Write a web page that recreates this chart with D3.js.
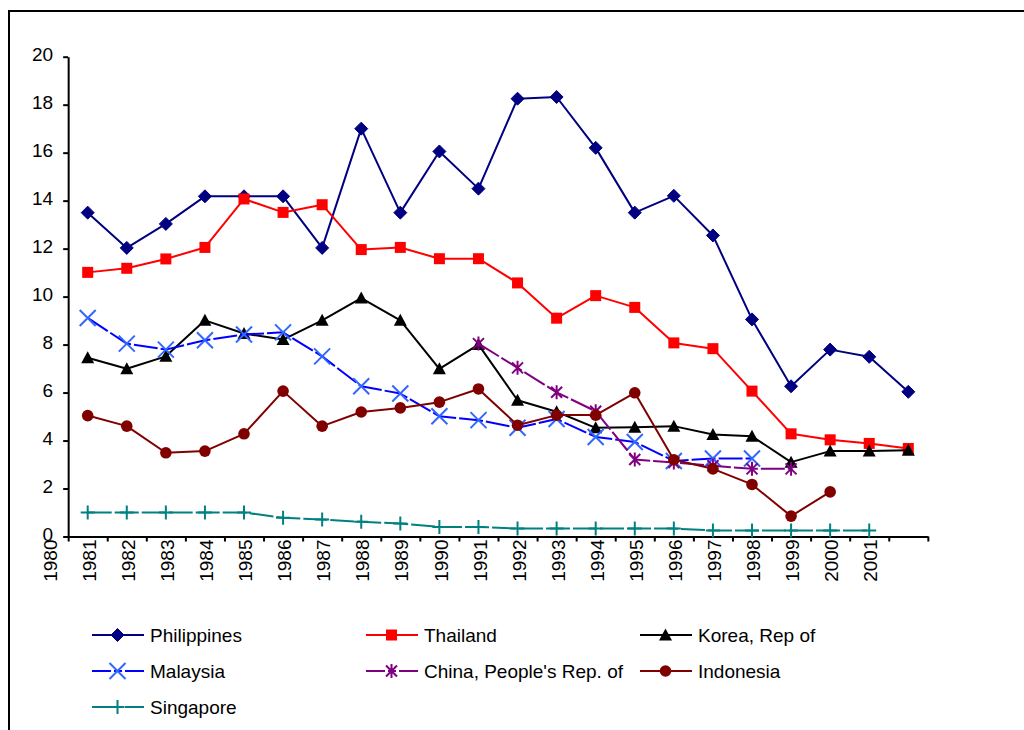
<!DOCTYPE html>
<html>
<head>
<meta charset="utf-8">
<script src="https://cdn.jsdelivr.net/npm/d3@7"></script>
<style>
  html, body { margin: 0; padding: 0; background: #fff; }
  svg { display: block; font-family: "Liberation Sans", Arial, sans-serif; }
</style>
</head>
<body>
<svg id="chart" width="1024" height="730"></svg>
<script>
const years = [1981,1982,1983,1984,1985,1986,1987,1988,1989,1990,1991,1992,1993,1994,1995,1996,1997,1998,1999,2000,2001,2002];
const yearLabels = [1980,1981,1982,1983,1984,1985,1986,1987,1988,1989,1990,1991,1992,1993,1994,1995,1996,1997,1998,1999,2000,2001];
const yTicks = [0,2,4,6,8,10,12,14,16,18,20];

const philippines = [13.5,12.03,13.03,14.18,14.18,14.18,12.03,17.0,13.5,16.05,14.5,18.25,18.32,16.2,13.5,14.2,12.55,9.05,6.26,7.79,7.49,6.03];
const thailand    = [11.01,11.18,11.57,12.05,14.07,13.51,13.83,11.96,12.05,11.58,11.58,10.57,9.1,10.04,9.55,8.07,7.83,6.06,4.28,4.03,3.88,3.67];
const korea       = [7.45,6.99,7.51,9.01,8.46,8.21,9.01,9.94,9.01,6.99,8.0,5.68,5.2,4.53,4.55,4.6,4.25,4.18,3.1,3.56,3.56,3.6];
const malaysia    = [9.11,8.04,7.79,8.18,8.42,8.51,7.51,6.26,5.96,5.01,4.85,4.53,4.9,4.15,3.94,3.15,3.25,3.25,null,null,null,null];
const china       = [null,null,null,null,null,null,null,null,null,null,8.04,7.03,6.01,5.22,3.21,3.08,2.95,2.82,2.82,null,null,null];
const indonesia   = [5.04,4.6,3.49,3.56,4.28,6.06,4.6,5.19,5.36,5.6,6.15,4.64,5.06,5.06,5.99,3.2,2.82,2.17,0.85,1.86,null,null];
const singapore   = [1.0,1.0,1.0,1.0,1.0,0.78,0.71,0.61,0.54,0.4,0.4,0.33,0.33,0.33,0.33,0.33,0.25,0.25,0.25,0.25,0.25,null];

const seriesNames = ["Philippines","Thailand","Korea, Rep of","Malaysia","China, People's Rep. of","Indonesia","Singapore"];
const seriesValues = [philippines, thailand, korea, malaysia, china, indonesia, singapore];

const styles = [
  {line:"#000080", mark:"#000080", marker:"diamond", dash:null},
  {line:"#FF0000", mark:"#FF0000", marker:"square", dash:null},
  {line:"#000000", mark:"#000000", marker:"triangle", dash:null},
  {line:"#0000FF", mark:"#3366FF", marker:"x", dash:"24,3"},
  {line:"#800080", mark:"#800080", marker:"star", dash:"24,3"},
  {line:"#800000", mark:"#800000", marker:"circle", dash:null},
  {line:"#008080", mark:"#008080", marker:"plus", dash:"24,3"}
];

const svg = d3.select("#chart");
svg.append("rect").attr("width",1024).attr("height",730).attr("fill","#fff");
svg.append("rect").attr("x",9).attr("y",11).attr("width",1100).attr("height",800)
  .attr("fill","none").attr("stroke","#000").attr("stroke-width",2);

const x = d3.scaleLinear().domain([1981, 2002]).range([87.7, 908.3]);
const y = d3.scaleLinear().domain([0, 20]).range([536.5, 56.7]);
const fontSize = 19;

// Y axis
const yAxis = svg.append("g").attr("transform", `translate(${x(1980.5)},0)`)
  .call(d3.axisLeft(y).tickValues(yTicks).tickSize(5).tickSizeOuter(0).tickPadding(10).tickFormat(d3.format("d")));
yAxis.selectAll("path, line").attr("stroke","#000").attr("stroke-width",2);
yAxis.selectAll("text").attr("font-size",fontSize).attr("fill","#000").attr("font-family","Liberation Sans, Arial, sans-serif").attr("dy","0.2em");

// X axis: line and ticks between categories
const xTickPos = years.map(d => d - 0.5).concat([2002.5]);
const xAxisScale = d3.scaleLinear().domain([1980.5, 2002.5]).range([x(1980.5), x(2002.5)]);
const xAxis = svg.append("g").attr("transform", `translate(0,${y(0)})`)
  .call(d3.axisBottom(xAxisScale).tickValues(xTickPos).tickSize(5).tickSizeOuter(0).tickFormat(""));
xAxis.selectAll("path, line").attr("stroke","#000").attr("stroke-width",2);

// X labels
const xLab = svg.append("g").attr("transform", `translate(0,${y(0)})`)
  .call(d3.axisBottom(x).tickValues(yearLabels).tickSize(0).tickFormat(d3.format("d")));
xLab.select(".domain").remove();
xLab.selectAll("text")
  .attr("font-size",fontSize).attr("fill","#000").attr("font-family","Liberation Sans, Arial, sans-serif")
  .attr("transform","rotate(-90)").attr("text-anchor","end")
  .attr("x",-3).attr("y",1).attr("dy","0.35em");

function drawMarker(g, type, color) {
  if (type === "diamond") {
    g.append("path").attr("d","M0,-6.5L6.5,0L0,6.5L-6.5,0Z").attr("fill",color).attr("stroke",color).attr("stroke-width",1);
  } else if (type === "square") {
    g.append("rect").attr("x",-5.5).attr("y",-5.5).attr("width",11).attr("height",11).attr("fill",color);
  } else if (type === "triangle") {
    g.append("path").attr("d","M0,-6.5L6.5,5.5L-6.5,5.5Z").attr("fill",color);
  } else if (type === "circle") {
    g.append("circle").attr("r",5.8).attr("fill",color);
  } else if (type === "x") {
    g.append("path").attr("d","M-8,-8L8,8M-8,8L8,-8").attr("stroke",color).attr("stroke-width",2).attr("fill","none");
  } else if (type === "star") {
    g.append("path").attr("d","M-5.5,-5.5L5.5,5.5M-5.5,5.5L5.5,-5.5M0,-7L0,7").attr("stroke",color).attr("stroke-width",2).attr("fill","none");
  } else if (type === "plus") {
    g.append("path").attr("d","M-7,0L7,0M0,-7L0,7").attr("stroke",color).attr("stroke-width",2).attr("fill","none");
  }
}

const line = d3.line().defined(d => d.v != null).x(d => x(d.year)).y(d => y(d.v));

seriesValues.forEach((vals, i) => {
  const st = styles[i];
  const pts = years.map((yr, j) => ({year: yr, v: vals[j]}));
  const g = svg.append("g");
  const p = g.append("path").attr("d", line(pts)).attr("fill","none")
    .attr("stroke", st.line).attr("stroke-width", 2).attr("stroke-linejoin","round");
  if (st.dash) p.attr("stroke-dasharray", st.dash);
  pts.filter(d => d.v != null).forEach(d => {
    const mg = g.append("g").attr("transform", `translate(${x(d.year)},${y(d.v)})`);
    drawMarker(mg, st.marker, st.mark);
  });
});

// Legend
const legX0 = 92, legColW = 274, legY0 = 635, legRowH = 36;
seriesNames.forEach((name, i) => {
  const st = styles[i];
  const col = i % 3, row = Math.floor(i / 3);
  const lx = legX0 + col * legColW, ly = legY0 + row * legRowH;
  const g = svg.append("g").attr("transform", `translate(${lx},${ly})`);
  const l = g.append("line").attr("x1",0).attr("x2",52).attr("y1",0).attr("y2",0)
    .attr("stroke", st.line).attr("stroke-width",2);
  if (st.dash) l.attr("stroke-dasharray","19,3,8,3,19");
  const mg = g.append("g").attr("transform","translate(25.5,0)");
  drawMarker(mg, st.marker, st.mark);
  g.append("text").attr("x",58).attr("y",0).attr("dy","0.35em")
    .attr("font-size",fontSize).attr("fill","#000").text(name);
});
</script>
</body>
</html>
